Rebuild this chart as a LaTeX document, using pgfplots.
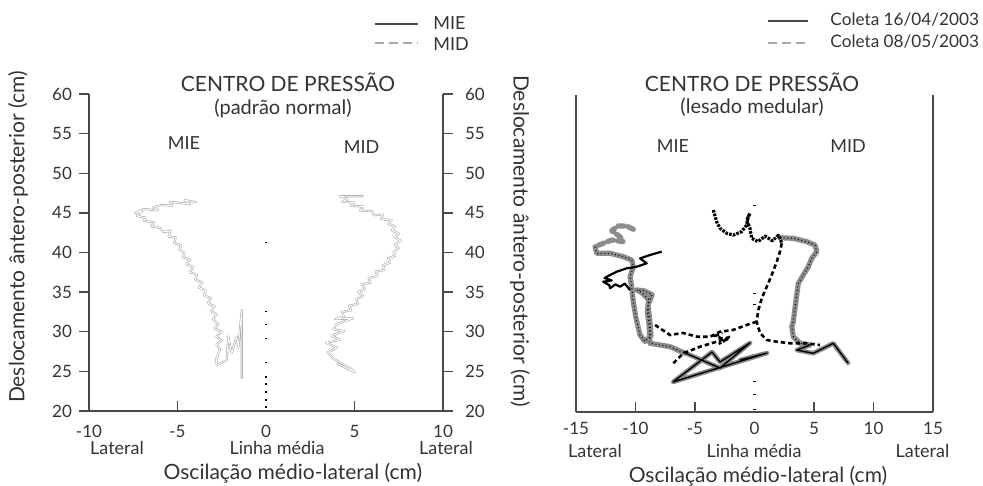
\documentclass[border=0pt]{standalone}
\usepackage{fontspec}
\setmainfont{Lato}
\usepackage{pgfplots}
\pgfplotsset{compat=1.18}
\definecolor{axgray}{HTML}{4A4A4A}
\definecolor{txt}{HTML}{333333}
\definecolor{trgray}{HTML}{8C8C8C}
\definecolor{lggray}{HTML}{A8A8A8}
\pgfplotsset{
 cp/.style={scale only axis, height=158.5pt, ymin=20, ymax=60, anchor=south west, clip=false,
   axis line style={axgray, line width=0.7pt, -},
   tick style={axgray, line width=0.7pt}, major tick length=5pt,
   tick label style={font=\fontsize{8.5}{10}\selectfont, text=txt},
   /pgf/number format/assume math mode=true,
   label style={font=\fontsize{10.5}{12}\selectfont, text=txt}},
 halo/.style={forget plot, draw=trgray, line width=2.6pt, line join=round, line cap=round},
 dots/.style={forget plot, draw=black, line width=0.5pt, dash pattern=on 0.5pt off 1.3pt},
 trace/.style={forget plot, draw=trgray!75, line width=0.3pt, double=white, double distance=0.45pt, line join=round},
 blk/.style={forget plot, draw=black, line width=1.3pt, dash pattern=on 2.2pt off 1.5pt},
 mid/.style={forget plot, only marks, mark=-, mark size=0.7pt, mark options={line width=0.6pt, black}},
}
\tikzset{lgsolid/.style={axgray, line width=1pt}, lgdash/.style={lggray, line width=1pt, dash pattern=on 4.5pt off 2.5pt}}
\begin{document}
\begin{tikzpicture}
\path[use as bounding box] (0pt,0pt) rectangle (491.5pt,243pt);
% ---------------- LEFT PLOT ----------------
\begin{axis}[cp, at={(44.5pt,37.5pt)}, width=177pt, xmin=-10, xmax=10,
  axis x line*=bottom, axis y line=none, tick align=inside,
  xtick={-10,-5,5,10}, extra x ticks={0}, extra x tick style={major tick length=0pt},
  xticklabel style={yshift=-3.5pt},
  xlabel={Oscilação médio-lateral (cm)},
  xlabel style={at={(axis description cs:0.576,-0.197)}, anchor=center}]
% MIE (padrao normal)
\addplot[trace] coordinates {(-3.92,46.35) (-4.6,46.6) (-4.3,46.1) (-5.0,46.3) (-5.42,46.4) (-5.3,45.9) (-5.9,46.0) (-6.37,45.7) (-6.1,45.3) (-6.9,45.5) (-7.4,45.0) (-7.0,45.2) (-7.3,44.6) (-6.8,44.4) (-6.9,44.0) (-6.3,43.8) (-6.5,43.3) (-6.0,43.1) (-5.8,42.6) (-5.4,42.7) (-5.5,42.0) (-5.1,41.9) (-5.2,41.2) (-4.8,40.9) (-4.9,40.3) (-4.6,40.0) (-4.7,39.4) (-4.3,39.1) (-4.5,38.5) (-4.1,38.2) (-4.3,37.5) (-3.9,37.2) (-4.0,36.6) (-3.6,36.2) (-3.8,35.6) (-3.4,35.2) (-3.5,34.6) (-3.1,34.2) (-3.3,33.6) (-2.9,33.2) (-3.1,32.6) (-2.8,32.2) (-3.0,31.6) (-2.7,31.0) (-2.9,30.4) (-2.5,30.0) (-2.8,29.4) (-2.5,28.9) (-2.8,28.4) (-2.6,27.8) (-2.7,27.2) (-2.8,26.6) (-2.79,25.8) (-2.22,26.4) (-2.13,29.4) (-1.94,27.3) (-1.66,29.4) (-1.56,28.1) (-1.37,32.75) (-1.37,24.1)};
% MID (padrao normal)
\addplot[trace] coordinates {(5.5,47.1) (4.18,47.1) (4.6,46.7) (4.3,46.4) (5.0,46.3) (4.8,45.9) (5.5,45.8) (5.3,45.3) (6.0,45.2) (6.1,44.7) (6.6,44.8) (6.5,44.2) (7.1,44.1) (6.9,43.6) (7.3,43.3) (7.1,42.8) (7.5,42.4) (7.3,41.9) (7.6,41.5) (7.3,41.0) (7.5,40.5) (7.2,40.1) (7.3,39.6) (6.9,39.3) (7.0,38.7) (6.6,38.4) (6.7,37.8) (6.2,37.6) (6.3,37.0) (5.8,36.8) (5.9,36.2) (5.4,36.0) (5.6,35.4) (5.2,35.0) (5.5,34.5) (5.1,34.1) (5.2,33.5) (4.7,33.3) (4.8,32.7) (4.3,32.5) (4.4,31.9) (3.9,31.6) (4.93,31.7) (4.0,31.0) (3.8,30.3) (4.4,30.1) (3.7,29.5) (4.2,29.0) (3.4,28.6) (4.0,28.0) (3.5,27.4) (3.8,26.6) (4.75,25.4) (5.0,24.9) (4.0,26.0)};
% linha media
\addplot[mid] coordinates {(0,41.3) (0,32.6) (0,30.9) (0,29.1) (0,26.1) (0,24.3) (0,23.4) (0,22.4) (0,21.4) (0,20.5)};
\end{axis}
\begin{axis}[cp, at={(44.5pt,37.5pt)}, width=177pt, xmin=-10, xmax=10,
  axis y line*=left, axis x line=none, tick align=outside, ytick={20,25,...,60},
  ylabel={Deslocamento ântero-posterior (cm)},
  ylabel style={at={(axis description cs:-0.2006,0.549)}, anchor=center}]
\end{axis}
\begin{axis}[cp, at={(44.5pt,37.5pt)}, width=177pt, xmin=-10, xmax=10,
  axis y line*=right, axis x line=none, tick align=outside, ytick={20,25,...,60},
  yticklabel style={xshift=2.5pt},
  ylabel={Deslocamento ântero-posterior (cm)},
  ylabel style={at={(axis description cs:1.2175,0.536)}, anchor=center, rotate=180}]
\end{axis}
% ---------------- RIGHT PLOT ----------------
\begin{axis}[cp, at={(288pt,37pt)}, width=178.5pt, xmin=-15, xmax=15,
  axis x line*=bottom, axis y line*=left, ytick=\empty, tick align=inside,
  xtick={-15,-10,-5,5,10,15}, extra x ticks={0}, extra x tick style={major tick length=0pt},
  xticklabel style={yshift=-1.5pt},
  xlabel={Oscilação médio-lateral (cm)},
  xlabel style={at={(axis description cs:0.5098,-0.203)}, anchor=center}]
% 16/04 MIE
\addplot[halo, dash pattern=on 3pt off 2pt] coordinates {(-10.18,43.05) (-10.74,43.47) (-11.45,43.47) (-12.0,42.88) (-11.30,42.12) (-11.03,41.49) (-12.0,41.70) (-12.71,41.29) (-13.40,40.86)};
\addplot[halo] coordinates {(-13.40,40.86) (-13.26,40.03) (-12.14,40.03) (-11.03,39.6) (-10.32,39.18) (-10.18,38.33) (-10.46,37.07) (-10.32,35.81) (-10.21,34.13) (-9.96,31.86) (-9.62,29.72) (-9.2,28.9) (-8.7,29.6) (-8.8,31.6) (-8.95,33.5) (-8.6,34.8) (-9.3,35.3) (-9.9,35.4) (-9.5,35.1) (-8.9,34.2) (-9.0,32.6) (-8.85,30.8) (-8.78,28.67) (-7.10,28.24) (-5.84,27.41)};
\addplot[halo, line width=2.3pt] coordinates {(-6.01,27.57) (-2.90,25.55) (-0.38,28.71) (-2.90,26.31) (-3.57,27.57) (-6.85,23.79) (1.05,27.44) (-1.22,26.56)};
% 16/04 MID
\addplot[halo] coordinates {(2.14,41.99) (3.26,41.92) (4.39,41.49) (5.08,41.07) (5.23,40.23) (4.81,39.39) (4.52,38.33) (4.10,37.29) (3.68,36.24) (3.55,34.76) (3.40,33.09) (3.26,31.39) (3.13,30.76) (3.26,29.50) (3.82,28.67) (4.66,28.45)};
\addplot[halo, line width=2.3pt] coordinates {(4.66,28.45) (3.55,27.82) (4.94,27.41) (6.62,28.67) (7.86,26.18)};
% dotted cores
\addplot[dots] coordinates {(-13.40,40.86) (-13.26,40.03) (-12.14,40.03) (-11.03,39.6) (-10.32,39.18) (-10.18,38.33) (-10.46,37.07) (-10.32,35.81) (-10.21,34.13) (-9.96,31.86) (-9.62,29.72) (-9.2,28.9) (-8.7,29.6) (-8.8,31.6) (-8.95,33.5) (-8.6,34.8) (-9.3,35.3) (-9.9,35.4) (-9.5,35.1) (-8.9,34.2) (-9.0,32.6) (-8.85,30.8) (-8.78,28.67) (-7.10,28.24) (-5.84,27.41)};
\addplot[dots] coordinates {(2.14,41.99) (3.26,41.92) (4.39,41.49) (5.08,41.07) (5.23,40.23) (4.81,39.39) (4.52,38.33) (4.10,37.29) (3.68,36.24) (3.55,34.76) (3.40,33.09) (3.26,31.39) (3.13,30.76) (3.26,29.50) (3.82,28.67) (4.66,28.45)};
\addplot[forget plot, black, line width=0.7pt, line join=round] coordinates {(-6.01,27.57) (-2.90,25.55) (-0.38,28.71) (-2.90,26.31) (-3.57,27.57) (-6.85,23.79) (1.05,27.44) (-1.22,26.56)};
\addplot[forget plot, black, line width=0.7pt, line join=round] coordinates {(4.66,28.45) (3.55,27.82) (4.94,27.41) (6.62,28.67) (7.86,26.18)};
% 08/05 MIE
\addplot[forget plot, black, line width=1.1pt, line join=round] coordinates {(-7.80,40.23) (-8.78,39.81) (-9.62,39.39) (-9.06,38.76) (-9.90,38.33) (-10.74,38.13) (-11.58,37.70) (-12.14,37.29) (-12.6,36.9) (-12.0,36.6) (-12.71,36.44) (-12.2,36.0) (-12.14,35.61) (-11.7,36.1) (-11.30,35.81) (-10.9,36.2) (-10.46,35.39)};
\addplot[blk] coordinates {(-8.36,30.98) (-7.10,29.72) (-6.01,29.97) (-4.83,29.50) (-3.74,29.50) (-2.90,30.13) (-1.81,30.35) (-0.66,30.98) (0.18,31.39)};
\addplot[blk] coordinates {(-6.82,26.15) (-5.98,27.41) (-4.58,28.24) (-3.18,28.87) (-2.06,29.50) (-3.0,28.6) (-2.4,29.1) (-3.3,29.6) (-2.7,30.0)};
% 08/05 MID
\addplot[forget plot, draw=black, line width=1.6pt, dash pattern=on 1.3pt off 0.6pt, line join=round] coordinates {(-3.46,45.49) (-3.18,44.01) (-2.90,43.18) (-2.34,42.55) (-1.78,42.33) (-1.08,42.75) (-0.66,43.60) (-0.52,44.64) (-0.38,45.07) (-0.66,44.23) (-0.38,43.18) (-0.24,41.92) (0.3,41.5) (0.9,42.2) (1.5,41.6) (2.0,42.3) (2.14,41.92) (2.29,41.29)};
\addplot[blk] coordinates {(2.29,41.29) (2.14,40.23) (1.87,38.97) (1.45,37.29) (1.03,35.81) (0.61,34.35) (0.32,32.87) (0.18,31.39) (0.46,29.97) (1.03,29.09) (1.87,28.87) (2.98,28.67) (4.39,28.67) (5.50,28.45)};
% linha media
\addplot[mid] coordinates {(0,46.1) (0,35.0) (0,33.6) (0,23.8) (0,22.2) (0,20.3)};
\end{axis}
\begin{axis}[cp, at={(288pt,37pt)}, width=178.5pt, xmin=-15, xmax=15,
  axis y line*=right, axis x line=none, ytick=\empty]
\end{axis}
% ---------------- LEGENDS ----------------
\draw[lgsolid] (187.5pt,231pt) -- (209pt,231pt);
\draw[lgdash] (187.5pt,221.5pt) -- (209pt,221.5pt);
\draw[lgsolid] (384pt,232.5pt) -- (404pt,232.5pt);
\draw[lgdash] (384pt,221.5pt) -- (404pt,221.5pt);
% ---------------- TEXTS ----------------
\begin{scope}[every node/.style={text=txt, inner sep=0pt}]
\node[font=\fontsize{9}{10}\selectfont, anchor=west] at (216.5pt,231.5pt) {MIE};
\node[font=\fontsize{9}{10}\selectfont, anchor=west] at (216.5pt,221pt) {MID};
\node[font=\fontsize{8.6}{10}\selectfont, anchor=west] at (415pt,233pt) {Coleta 16/04/2003};
\node[font=\fontsize{8.6}{10}\selectfont, anchor=west] at (415pt,222pt) {Coleta 08/05/2003};
\node[font=\fontsize{10.5}{12}\selectfont] at (144pt,202pt) {CENTRO DE PRESSÃO};
\node[font=\fontsize{10}{12}\selectfont] at (141.5pt,189pt) {(padrão normal)};
\node[font=\fontsize{10.5}{12}\selectfont] at (376pt,202pt) {CENTRO DE PRESSÃO};
\node[font=\fontsize{10}{12}\selectfont] at (376pt,189.5pt) {(lesado medular)};
\node[font=\fontsize{9}{11}\selectfont] at (92pt,171.5pt) {MIE};
\node[font=\fontsize{9}{11}\selectfont] at (180.8pt,169.7pt) {MID};
\node[font=\fontsize{9}{11}\selectfont] at (336.5pt,170pt) {MIE};
\node[font=\fontsize{9}{11}\selectfont] at (424pt,170pt) {MID};
\node[font=\fontsize{9}{11}\selectfont] at (58.5pt,19pt) {Lateral};
\node[font=\fontsize{9}{11}\selectfont] at (138.5pt,19pt) {Linha média};
\node[font=\fontsize{9}{11}\selectfont] at (223pt,19pt) {Lateral};
\node[font=\fontsize{9}{11}\selectfont] at (297.5pt,17.5pt) {Lateral};
\node[font=\fontsize{9}{11}\selectfont] at (377pt,17.5pt) {Linha média};
\node[font=\fontsize{9}{11}\selectfont] at (461.25pt,17.5pt) {Lateral};
\end{scope}
\end{tikzpicture}
\end{document}
